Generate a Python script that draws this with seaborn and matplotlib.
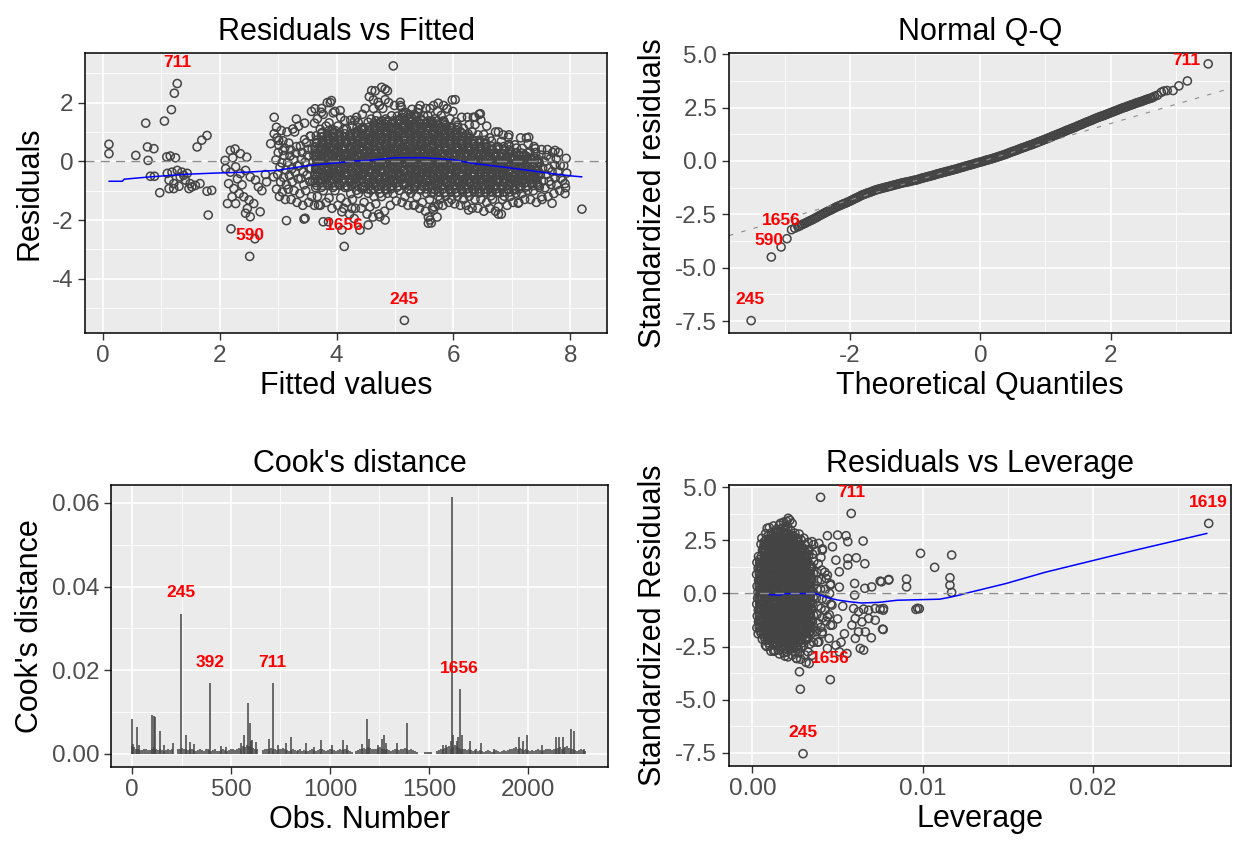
import numpy as np
import matplotlib
matplotlib.use("Agg")
import matplotlib.pyplot as plt
import seaborn as sns

# ---------------- Residuals vs Fitted : dense cloud (read column by column) -------------
rf_fit_cloud = [
 3.02,2.97,3.04,2.99,3.03,2.96,3.00,3.01,2.98,3.05,
 3.12,3.07,3.14,3.09,3.13,3.06,3.10,3.11,3.08,3.15,
 3.22,3.17,3.24,3.19,3.23,3.16,3.20,3.21,3.18,3.25,
 3.32,3.27,3.34,3.29,3.33,3.26,3.30,3.31,3.28,
 3.42,3.37,3.44,3.39,3.43,3.36,3.40,3.41,3.38,3.45,3.35,
 3.52,3.47,3.54,3.49,3.53,3.46,3.50,3.51,3.48,3.55,3.45,
 3.62,3.57,3.64,3.59,3.63,3.56,3.60,3.61,3.58,3.65,3.55,3.62,3.57,
 3.72,3.67,3.74,3.69,3.73,3.66,3.70,3.71,3.68,3.75,3.65,3.72,3.67,3.74,
 3.82,3.77,3.84,3.79,3.83,3.76,3.80,3.81,3.78,3.85,3.75,3.82,3.77,3.84,
 3.92,3.87,3.94,3.89,3.93,3.86,3.90,3.91,3.88,3.95,3.85,3.92,3.87,3.94,3.89,
 4.02,3.97,4.04,3.99,4.03,3.96,4.00,4.01,3.98,4.05,3.95,4.02,3.97,
 4.12,4.07,4.14,4.09,4.13,4.06,4.10,4.11,4.08,4.15,4.05,4.12,4.07,
 4.22,4.17,4.24,4.19,4.23,4.16,4.20,4.21,4.18,4.25,4.15,4.22,4.17,4.24,
 4.32,4.27,4.34,4.29,4.33,4.26,4.30,4.31,4.28,4.35,4.25,4.32,4.27,4.34,
 4.42,4.37,4.44,4.39,4.43,4.36,4.40,4.41,4.38,4.45,4.35,4.42,4.37,4.44,
 4.52,4.47,4.54,4.49,4.53,4.46,4.50,4.51,4.48,4.55,4.45,4.52,4.47,4.54,4.49,
 4.62,4.57,4.64,4.59,4.63,4.56,4.60,4.61,4.58,4.65,4.55,4.62,4.57,4.64,4.59,4.63,4.56,
 4.72,4.67,4.74,4.69,4.73,4.66,4.70,4.71,4.68,4.75,4.65,4.72,4.67,4.74,4.69,4.73,4.66,
 4.82,4.77,4.84,4.79,4.83,4.76,4.80,4.81,4.78,4.85,4.75,4.82,4.77,4.84,4.79,4.83,
 4.92,4.87,4.94,4.89,4.93,4.86,4.90,4.91,4.88,4.95,4.85,4.92,4.87,4.94,4.89,
 5.02,4.97,5.04,4.99,5.03,4.96,5.00,5.01,4.98,5.05,4.95,5.02,4.97,5.04,4.99,
 5.12,5.07,5.14,5.09,5.13,5.06,5.10,5.11,5.08,5.15,5.05,5.12,5.07,5.14,5.09,
 5.22,5.17,5.24,5.19,5.23,5.16,5.20,5.21,5.18,5.25,5.15,5.22,5.17,5.24,5.19,
 5.32,5.27,5.34,5.29,5.33,5.26,5.30,5.31,5.28,5.35,5.25,5.32,5.27,5.34,5.29,
 5.42,5.37,5.44,5.39,5.43,5.36,5.40,5.41,5.38,5.45,5.35,5.42,5.37,5.44,5.39,5.43,
 5.52,5.47,5.54,5.49,5.53,5.46,5.50,5.51,5.48,5.55,5.45,5.52,5.47,5.54,5.49,5.53,
 5.62,5.57,5.64,5.59,5.63,5.56,5.60,5.61,5.58,5.65,5.55,5.62,5.57,5.64,5.59,5.63,5.56,5.60,
 5.72,5.67,5.74,5.69,5.73,5.66,5.70,5.71,5.68,5.75,5.65,5.72,5.67,5.74,5.69,5.73,5.66,
 5.82,5.77,5.84,5.79,5.83,5.76,5.80,5.81,5.78,5.85,5.75,5.82,5.77,5.84,5.79,5.83,
 5.92,5.87,5.94,5.89,5.93,5.86,5.90,5.91,5.88,5.95,5.85,5.92,5.87,5.94,5.89,
 6.02,5.97,6.04,5.99,6.03,5.96,6.00,6.01,5.98,6.05,5.95,6.02,5.97,6.04,5.99,6.03,
 6.12,6.07,6.14,6.09,6.13,6.06,6.10,6.11,6.08,6.15,6.05,6.12,6.07,6.14,
 6.22,6.17,6.24,6.19,6.23,6.16,6.20,6.21,6.18,6.25,6.15,6.22,6.17,6.24,
 6.32,6.27,6.34,6.29,6.33,6.26,6.30,6.31,6.28,6.35,6.25,6.32,6.27,6.34,
 6.42,6.37,6.44,6.39,6.43,6.36,6.40,6.41,6.38,6.45,6.35,6.42,6.37,6.44,
 6.52,6.47,6.54,6.49,6.53,6.46,6.50,6.51,6.48,6.55,6.45,6.52,6.47,
 6.62,6.57,6.64,6.59,6.63,6.56,6.60,6.61,6.58,6.65,6.55,6.62,6.57,
 6.72,6.67,6.74,6.69,6.73,6.66,6.70,6.71,6.68,6.75,6.65,6.72,
 6.82,6.77,6.84,6.79,6.83,6.76,6.80,6.81,6.78,6.85,6.75,6.82,6.77,
 6.92,6.87,6.94,6.89,6.93,6.86,6.90,6.91,6.88,6.95,6.85,
 7.02,6.97,7.04,6.99,7.03,6.96,7.00,7.01,6.98,7.05,6.95,
 7.12,7.07,7.14,7.09,7.13,7.06,7.10,7.11,7.08,7.15,
 7.22,7.17,7.24,7.19,7.23,7.16,7.20,7.21,7.18,7.25,
 7.32,7.27,7.34,7.29,7.33,7.26,7.30,7.31,7.28,
 7.42,7.37,7.44,7.39,7.43,7.36,7.40,7.41,7.38,
 7.52,7.47,7.54,7.49,7.53,7.46,7.50,7.51,
 7.62,7.57,7.64,7.59,7.63,7.56,7.60,7.61,
 7.72,7.67,7.74,7.69,7.73,7.66,7.70,
 7.82,7.77,7.84,7.79,7.83,7.76,7.80,
 7.92,7.87,7.94,7.89,7.93,
]
rf_res_cloud = [
 -1.2,-0.95,-0.7,-0.45,-0.2,0.05,0.3,0.55,0.8,1.05,
 -1.3,-1.05,-0.8,-0.55,-0.3,-0.05,0.2,0.45,0.7,1.0,
 -1.3,-0.95,-0.7,-0.48,-0.26,-0.04,0.18,0.4,0.62,1.1,
 -1.4,-1.0,-0.6,-0.38,-0.16,0.06,0.28,0.5,1.0,
 -1.5,-1.1,-0.8,-0.58,-0.36,-0.14,0.08,0.3,0.52,0.74,1.2,
 -1.4,-1.0,-0.69,-0.47,-0.25,-0.03,0.19,0.41,0.63,0.85,1.3,
 -1.5,-1.2,-0.9,-0.68,-0.46,-0.24,-0.02,0.2,0.42,0.64,0.86,1.3,1.7,
 -1.5,-1.2,-0.89,-0.67,-0.45,-0.23,-0.01,0.21,0.43,0.65,0.87,1.09,1.45,1.8,
 -1.4,-1.0,-0.78,-0.56,-0.34,-0.12,0.1,0.32,0.54,0.76,0.98,1.2,1.6,2.0,
 -1.6,-1.25,-0.89,-0.67,-0.45,-0.23,-0.01,0.21,0.43,0.65,0.87,1.09,1.31,1.65,2.0,
 -1.5,-1.0,-0.78,-0.56,-0.34,-0.12,0.1,0.32,0.54,0.76,0.98,1.2,1.7,
 -1.6,-1.25,-0.89,-0.67,-0.45,-0.23,-0.01,0.21,0.43,0.65,0.87,1.09,1.5,
 -1.8,-1.4,-1.1,-0.88,-0.66,-0.44,-0.22,0.0,0.22,0.44,0.66,0.88,1.1,1.4,
 -1.6,-1.3,-0.99,-0.77,-0.55,-0.33,-0.11,0.11,0.33,0.55,0.77,0.99,1.21,1.5,
 -1.6,-1.1,-0.88,-0.66,-0.44,-0.22,0.0,0.22,0.44,0.66,0.88,1.1,1.32,1.6,
 -1.8,-1.4,-1.09,-0.87,-0.65,-0.43,-0.21,0.01,0.23,0.45,0.67,0.89,1.11,1.33,1.8,
 -1.9,-1.55,-1.2,-0.98,-0.76,-0.54,-0.32,-0.1,0.12,0.34,0.56,0.78,1.0,1.22,1.44,1.8,2.2,
 -1.8,-1.45,-1.09,-0.87,-0.65,-0.43,-0.21,0.01,0.23,0.45,0.67,0.89,1.11,1.33,1.55,1.9,2.4,
 -1.7,-1.2,-0.98,-0.76,-0.54,-0.32,-0.1,0.12,0.34,0.56,0.78,1.0,1.22,1.44,1.8,2.1,
 -1.5,-1.09,-0.87,-0.65,-0.43,-0.21,0.01,0.23,0.45,0.67,0.89,1.11,1.33,1.55,2.0,
 -1.35,-1.1,-0.88,-0.66,-0.44,-0.22,0.0,0.22,0.44,0.66,0.88,1.1,1.32,1.54,1.9,
 -1.4,-0.99,-0.77,-0.55,-0.33,-0.11,0.11,0.33,0.55,0.77,0.99,1.21,1.43,1.65,1.9,
 -1.5,-1.2,-0.98,-0.76,-0.54,-0.32,-0.1,0.12,0.34,0.56,0.78,1.0,1.22,1.44,1.66,
 -1.5,-1.09,-0.87,-0.65,-0.43,-0.21,0.01,0.23,0.45,0.67,0.89,1.11,1.33,1.55,1.77,
 -1.6,-1.2,-0.98,-0.76,-0.54,-0.32,-0.1,0.12,0.34,0.56,0.78,1.0,1.22,1.44,1.66,1.9,
 -1.7,-1.4,-1.09,-0.87,-0.65,-0.43,-0.21,0.01,0.23,0.45,0.67,0.89,1.11,1.33,1.55,1.8,
 -2.1,-1.9,-1.6,-1.3,-1.08,-0.86,-0.64,-0.42,-0.2,0.02,0.24,0.46,0.68,0.9,1.12,1.34,1.56,1.8,
 -1.9,-1.55,-1.19,-0.97,-0.75,-0.53,-0.31,-0.09,0.13,0.35,0.57,0.79,1.01,1.23,1.45,1.7,1.9,
 -1.5,-1.3,-1.08,-0.86,-0.64,-0.42,-0.2,0.02,0.24,0.46,0.68,0.9,1.12,1.34,1.56,1.9,
 -1.4,-1.19,-0.97,-0.75,-0.53,-0.31,-0.09,0.13,0.35,0.57,0.79,1.01,1.23,1.45,1.8,
 -1.45,-1.3,-1.08,-0.86,-0.64,-0.42,-0.2,0.02,0.24,0.46,0.68,0.9,1.12,1.34,1.7,2.1,
 -1.5,-1.19,-0.97,-0.75,-0.53,-0.31,-0.09,0.13,0.35,0.57,0.79,1.01,1.23,1.5,
 -1.5,-1.3,-1.08,-0.86,-0.64,-0.42,-0.2,0.02,0.24,0.46,0.68,0.9,1.12,1.5,
 -1.6,-1.19,-0.97,-0.75,-0.53,-0.31,-0.09,0.13,0.35,0.57,0.79,1.01,1.25,1.5,
 -1.6,-1.3,-1.08,-0.86,-0.64,-0.42,-0.2,0.02,0.24,0.46,0.68,0.9,1.25,1.6,
 -1.7,-1.29,-1.07,-0.85,-0.63,-0.41,-0.19,0.03,0.25,0.47,0.69,0.91,1.4,
 -1.6,-1.4,-1.18,-0.96,-0.74,-0.52,-0.3,-0.08,0.14,0.36,0.58,0.8,1.2,
 -1.7,-1.29,-1.07,-0.85,-0.63,-0.41,-0.19,0.03,0.25,0.47,0.69,1.0,
 -1.8,-1.55,-1.3,-1.08,-0.86,-0.64,-0.42,-0.2,0.02,0.24,0.46,0.68,1.0,
 -1.5,-1.19,-0.97,-0.75,-0.53,-0.31,-0.09,0.13,0.35,0.57,0.9,
 -1.4,-1.2,-0.98,-0.76,-0.54,-0.32,-0.1,0.12,0.34,0.56,0.9,
 -1.4,-1.09,-0.87,-0.65,-0.43,-0.21,0.01,0.23,0.45,0.8,
 -1.3,-1.1,-0.88,-0.66,-0.44,-0.22,0.0,0.22,0.44,0.8,
 -1.3,-0.99,-0.77,-0.55,-0.33,-0.11,0.11,0.33,0.6,
 -1.4,-1.0,-0.78,-0.56,-0.34,-0.12,0.1,0.3,0.5,
 -1.3,-0.89,-0.67,-0.45,-0.23,-0.01,0.21,0.4,
 -1.2,-0.9,-0.68,-0.46,-0.24,-0.02,0.2,0.4,
 -1.1,-0.79,-0.57,-0.35,-0.13,0.09,0.3,
 -1.0,-0.8,-0.58,-0.36,-0.14,0.08,0.3,
 -0.9,-0.65,-0.4,-0.15,0.1,
]
# solid core of the cloud, read between the columns above
rf_fit_core = [
 3.66,3.63,3.67,3.64,3.65,3.67,3.63,3.66,
 3.76,3.73,3.77,3.74,3.75,3.77,3.73,3.76,3.74,
 3.86,3.83,3.87,3.84,3.85,3.87,3.83,3.86,3.84,
 3.96,3.93,3.97,3.94,3.95,3.97,3.93,3.96,3.94,
 4.06,4.03,4.07,4.04,4.05,4.07,4.03,4.06,4.04,
 4.16,4.13,4.17,4.14,4.15,4.17,4.13,4.16,4.14,
 4.26,4.23,4.27,4.24,4.25,4.27,4.23,4.26,4.24,
 4.36,4.33,4.37,4.34,4.35,4.37,4.33,4.36,4.34,4.35,
 4.46,4.43,4.47,4.44,4.45,4.47,4.43,4.46,4.44,4.45,
 4.56,4.53,4.57,4.54,4.55,4.57,4.53,4.56,4.54,4.55,
 4.66,4.63,4.67,4.64,4.65,4.67,4.63,4.66,4.64,4.65,4.67,
 4.76,4.73,4.77,4.74,4.75,4.77,4.73,4.76,4.74,4.75,4.77,
 4.86,4.83,4.87,4.84,4.85,4.87,4.83,4.86,4.84,4.85,4.87,
 4.96,4.93,4.97,4.94,4.95,4.97,4.93,4.96,4.94,4.95,4.97,
 5.06,5.03,5.07,5.04,5.05,5.07,5.03,5.06,5.04,5.05,5.07,
 5.16,5.13,5.17,5.14,5.15,5.17,5.13,5.16,5.14,5.15,5.17,5.13,
 5.26,5.23,5.27,5.24,5.25,5.27,5.23,5.26,5.24,5.25,5.27,5.23,
 5.36,5.33,5.37,5.34,5.35,5.37,5.33,5.36,5.34,5.35,5.37,5.33,
 5.46,5.43,5.47,5.44,5.45,5.47,5.43,5.46,5.44,5.45,5.47,
 5.56,5.53,5.57,5.54,5.55,5.57,5.53,5.56,5.54,5.55,5.57,
 5.66,5.63,5.67,5.64,5.65,5.67,5.63,5.66,5.64,5.65,5.67,5.63,
 5.76,5.73,5.77,5.74,5.75,5.77,5.73,5.76,5.74,5.75,5.77,5.73,
 5.86,5.83,5.87,5.84,5.85,5.87,5.83,5.86,5.84,5.85,5.87,5.83,
 5.96,5.93,5.97,5.94,5.95,5.97,5.93,5.96,5.94,5.95,5.97,
 6.06,6.03,6.07,6.04,6.05,6.07,6.03,6.06,6.04,6.05,6.07,
 6.16,6.13,6.17,6.14,6.15,6.17,6.13,6.16,6.14,6.15,
 6.26,6.23,6.27,6.24,6.25,6.27,6.23,6.26,6.24,6.25,
 6.36,6.33,6.37,6.34,6.35,6.37,6.33,6.36,6.34,
 6.46,6.43,6.47,6.44,6.45,6.47,6.43,6.46,6.44,
 6.56,6.53,6.57,6.54,6.55,6.57,6.53,6.56,6.54,
 6.66,6.63,6.67,6.64,6.65,6.67,6.63,6.66,
 6.76,6.73,6.77,6.74,6.75,6.77,6.73,6.76,
 6.86,6.83,6.87,6.84,6.85,6.87,6.83,6.86,
 6.96,6.93,6.97,6.94,6.95,6.97,6.93,6.96,
 7.06,7.03,7.07,7.04,7.05,7.07,
 7.16,7.13,7.17,7.14,7.15,7.17,
 7.26,7.23,7.27,7.24,7.25,7.27,
 7.36,7.33,7.37,7.34,7.35,
 7.46,7.43,7.47,7.44,7.45,
]
rf_res_core = [
 -0.83,-0.61,-0.39,-0.17,0.06,0.28,0.50,0.72,
 -0.83,-0.61,-0.39,-0.17,0.06,0.28,0.50,0.72,0.94,
 -0.83,-0.61,-0.39,-0.17,0.06,0.28,0.50,0.72,0.94,
 -0.83,-0.61,-0.39,-0.17,0.06,0.28,0.50,0.72,0.94,
 -0.83,-0.61,-0.39,-0.17,0.06,0.28,0.50,0.72,0.94,
 -0.83,-0.61,-0.39,-0.17,0.06,0.28,0.50,0.72,0.94,
 -0.83,-0.61,-0.39,-0.17,0.06,0.28,0.50,0.72,0.94,
 -0.83,-0.61,-0.39,-0.17,0.06,0.28,0.50,0.72,0.94,1.16,
 -0.83,-0.61,-0.39,-0.17,0.06,0.28,0.50,0.72,0.94,1.16,
 -0.83,-0.61,-0.39,-0.17,0.06,0.28,0.50,0.72,0.94,1.16,
 -0.83,-0.61,-0.39,-0.17,0.06,0.28,0.50,0.72,0.94,1.16,1.38,
 -0.83,-0.61,-0.39,-0.17,0.06,0.28,0.50,0.72,0.94,1.16,1.38,
 -0.83,-0.61,-0.39,-0.17,0.06,0.28,0.50,0.72,0.94,1.16,1.38,
 -0.83,-0.61,-0.39,-0.17,0.06,0.28,0.50,0.72,0.94,1.16,1.38,
 -0.83,-0.61,-0.39,-0.17,0.06,0.28,0.50,0.72,0.94,1.16,1.38,
 -0.83,-0.61,-0.39,-0.17,0.06,0.28,0.50,0.72,0.94,1.16,1.38,1.60,
 -0.83,-0.61,-0.39,-0.17,0.06,0.28,0.50,0.72,0.94,1.16,1.38,1.60,
 -0.83,-0.61,-0.39,-0.17,0.06,0.28,0.50,0.72,0.94,1.16,1.38,1.60,
 -0.83,-0.61,-0.39,-0.17,0.06,0.28,0.50,0.72,0.94,1.16,1.38,
 -0.83,-0.61,-0.39,-0.17,0.06,0.28,0.50,0.72,0.94,1.16,1.38,
 -1.05,-0.83,-0.61,-0.39,-0.17,0.06,0.28,0.50,0.72,0.94,1.16,1.38,
 -1.05,-0.83,-0.61,-0.39,-0.17,0.06,0.28,0.50,0.72,0.94,1.16,1.38,
 -1.05,-0.83,-0.61,-0.39,-0.17,0.06,0.28,0.50,0.72,0.94,1.16,1.38,
 -1.05,-0.83,-0.61,-0.39,-0.17,0.06,0.28,0.50,0.72,0.94,1.16,
 -1.05,-0.83,-0.61,-0.39,-0.17,0.06,0.28,0.50,0.72,0.94,1.16,
 -1.05,-0.83,-0.61,-0.39,-0.17,0.06,0.28,0.50,0.72,0.94,
 -1.05,-0.83,-0.61,-0.39,-0.17,0.06,0.28,0.50,0.72,0.94,
 -1.05,-0.83,-0.61,-0.39,-0.17,0.06,0.28,0.50,0.72,
 -1.05,-0.83,-0.61,-0.39,-0.17,0.06,0.28,0.50,0.72,
 -1.05,-0.83,-0.61,-0.39,-0.17,0.06,0.28,0.50,0.72,
 -1.05,-0.83,-0.61,-0.39,-0.17,0.06,0.28,0.50,
 -1.05,-0.83,-0.61,-0.39,-0.17,0.06,0.28,0.50,
 -1.05,-0.83,-0.61,-0.39,-0.17,0.06,0.28,0.50,
 -1.05,-0.83,-0.61,-0.39,-0.17,0.06,0.28,0.50,
 -0.83,-0.61,-0.39,-0.17,0.06,0.28,
 -0.83,-0.61,-0.39,-0.17,0.06,0.28,
 -0.83,-0.61,-0.39,-0.17,0.06,0.28,
 -0.83,-0.61,-0.39,-0.17,0.06,
 -0.83,-0.61,-0.39,-0.17,0.06,
]
# innermost core (darkest part of the cloud)
rf_fit_inner = [
 3.63,3.66,3.64,3.67,3.65,3.63,3.66,
 3.73,3.76,3.74,3.77,3.75,3.73,3.76,3.74,
 3.83,3.86,3.84,3.87,3.85,3.83,3.86,3.84,3.87,
 3.93,3.96,3.94,3.97,3.95,3.93,3.96,3.94,3.97,
 4.03,4.06,4.04,4.07,4.05,4.03,4.06,4.04,
 4.13,4.16,4.14,4.17,4.15,4.13,4.16,4.14,
 4.23,4.26,4.24,4.27,4.25,4.23,4.26,4.24,
 4.33,4.36,4.34,4.37,4.35,4.33,4.36,4.34,4.37,
 4.43,4.46,4.44,4.47,4.45,4.43,4.46,4.44,4.47,4.45,
 4.53,4.56,4.54,4.57,4.55,4.53,4.56,4.54,4.57,4.55,
 4.63,4.66,4.64,4.67,4.65,4.63,4.66,4.64,4.67,4.65,4.63,
 4.73,4.76,4.74,4.77,4.75,4.73,4.76,4.74,4.77,4.75,4.73,
 4.83,4.86,4.84,4.87,4.85,4.83,4.86,4.84,4.87,4.85,4.83,
 4.93,4.96,4.94,4.97,4.95,4.93,4.96,4.94,4.97,4.95,4.93,
 5.03,5.06,5.04,5.07,5.05,5.03,5.06,5.04,5.07,5.05,
 5.13,5.16,5.14,5.17,5.15,5.13,5.16,5.14,5.17,5.15,5.13,
 5.23,5.26,5.24,5.27,5.25,5.23,5.26,5.24,5.27,5.25,5.23,5.26,
 5.33,5.36,5.34,5.37,5.35,5.33,5.36,5.34,5.37,5.35,5.33,5.36,
 5.43,5.46,5.44,5.47,5.45,5.43,5.46,5.44,5.47,5.45,5.43,
 5.53,5.56,5.54,5.57,5.55,5.53,5.56,5.54,5.57,5.55,5.53,
 5.63,5.66,5.64,5.67,5.65,5.63,5.66,5.64,5.67,5.65,5.63,
 5.73,5.76,5.74,5.77,5.75,5.73,5.76,5.74,5.77,5.75,5.73,
 5.83,5.86,5.84,5.87,5.85,5.83,5.86,5.84,5.87,5.85,5.83,
 5.93,5.96,5.94,5.97,5.95,5.93,5.96,5.94,5.97,5.95,
 6.03,6.06,6.04,6.07,6.05,6.03,6.06,6.04,6.07,6.05,
 6.13,6.16,6.14,6.17,6.15,6.13,6.16,6.14,6.17,
 6.23,6.26,6.24,6.27,6.25,6.23,6.26,6.24,6.27,
 6.33,6.36,6.34,6.37,6.35,6.33,6.36,6.34,
 6.43,6.46,6.44,6.47,6.45,6.43,6.46,6.44,
 6.53,6.56,6.54,6.57,6.55,6.53,6.56,6.54,
 6.63,6.66,6.64,6.67,6.65,6.63,6.66,
 6.73,6.76,6.74,6.77,6.75,6.73,6.76,
 6.83,6.86,6.84,6.87,6.85,6.83,6.86,
 6.93,6.96,6.94,6.97,6.95,6.93,6.96,
 7.03,7.06,7.04,7.07,7.05,7.03,
 7.13,7.16,7.14,7.17,7.15,7.13,
 7.23,7.26,7.24,7.27,7.25,
 7.33,7.36,7.34,7.37,
 7.43,7.46,7.44,7.47,
]
rf_res_inner = [
 -0.72,-0.50,-0.28,-0.06,0.17,0.39,0.61,
 -0.72,-0.50,-0.28,-0.06,0.17,0.39,0.61,0.83,
 -0.72,-0.50,-0.28,-0.06,0.17,0.39,0.61,0.83,1.05,
 -0.72,-0.50,-0.28,-0.06,0.17,0.39,0.61,0.83,1.05,
 -0.72,-0.50,-0.28,-0.06,0.17,0.39,0.61,0.83,
 -0.72,-0.50,-0.28,-0.06,0.17,0.39,0.61,0.83,
 -0.72,-0.50,-0.28,-0.06,0.17,0.39,0.61,0.83,
 -0.72,-0.50,-0.28,-0.06,0.17,0.39,0.61,0.83,1.05,
 -0.94,-0.72,-0.50,-0.28,-0.06,0.17,0.39,0.61,0.83,1.05,
 -0.94,-0.72,-0.50,-0.28,-0.06,0.17,0.39,0.61,0.83,1.05,
 -0.94,-0.72,-0.50,-0.28,-0.06,0.17,0.39,0.61,0.83,1.05,1.27,
 -0.94,-0.72,-0.50,-0.28,-0.06,0.17,0.39,0.61,0.83,1.05,1.27,
 -0.94,-0.72,-0.50,-0.28,-0.06,0.17,0.39,0.61,0.83,1.05,1.27,
 -0.94,-0.72,-0.50,-0.28,-0.06,0.17,0.39,0.61,0.83,1.05,1.27,
 -0.72,-0.50,-0.28,-0.06,0.17,0.39,0.61,0.83,1.05,1.27,
 -0.72,-0.50,-0.28,-0.06,0.17,0.39,0.61,0.83,1.05,1.27,1.49,
 -0.94,-0.72,-0.50,-0.28,-0.06,0.17,0.39,0.61,0.83,1.05,1.27,1.49,
 -0.94,-0.72,-0.50,-0.28,-0.06,0.17,0.39,0.61,0.83,1.05,1.27,1.49,
 -0.94,-0.72,-0.50,-0.28,-0.06,0.17,0.39,0.61,0.83,1.05,1.27,
 -0.94,-0.72,-0.50,-0.28,-0.06,0.17,0.39,0.61,0.83,1.05,1.27,
 -0.94,-0.72,-0.50,-0.28,-0.06,0.17,0.39,0.61,0.83,1.05,1.27,
 -0.94,-0.72,-0.50,-0.28,-0.06,0.17,0.39,0.61,0.83,1.05,1.27,
 -0.94,-0.72,-0.50,-0.28,-0.06,0.17,0.39,0.61,0.83,1.05,1.27,
 -0.94,-0.72,-0.50,-0.28,-0.06,0.17,0.39,0.61,0.83,1.05,
 -0.94,-0.72,-0.50,-0.28,-0.06,0.17,0.39,0.61,0.83,1.05,
 -0.94,-0.72,-0.50,-0.28,-0.06,0.17,0.39,0.61,0.83,
 -0.94,-0.72,-0.50,-0.28,-0.06,0.17,0.39,0.61,0.83,
 -0.94,-0.72,-0.50,-0.28,-0.06,0.17,0.39,0.61,
 -0.94,-0.72,-0.50,-0.28,-0.06,0.17,0.39,0.61,
 -0.94,-0.72,-0.50,-0.28,-0.06,0.17,0.39,0.61,
 -0.94,-0.72,-0.50,-0.28,-0.06,0.17,0.39,
 -0.94,-0.72,-0.50,-0.28,-0.06,0.17,0.39,
 -0.94,-0.72,-0.50,-0.28,-0.06,0.17,0.39,
 -0.94,-0.72,-0.50,-0.28,-0.06,0.17,0.39,
 -0.94,-0.72,-0.50,-0.28,-0.06,0.17,
 -0.94,-0.72,-0.50,-0.28,-0.06,0.17,
 -0.72,-0.50,-0.28,-0.06,0.17,
 -0.72,-0.50,-0.28,-0.06,
 -0.72,-0.50,-0.28,-0.06,
]
# sparse points / outliers of Residuals vs Fitted
rf_fit_sparse = [
 0.10,0.10,0.56,0.73,0.76,0.87,0.77,0.81,0.88,0.97,
 1.05,1.17,1.22,1.27,1.09,1.15,1.24,1.10,1.18,1.27,
 1.35,1.44,1.13,1.21,1.32,1.41,1.49,1.13,1.21,1.47,
 1.52,1.30,1.38,1.61,1.69,1.78,1.66,1.78,1.86,1.80,
 1.58,2.09,2.18,2.26,2.35,2.46,2.22,2.10,2.18,2.27,
 2.35,2.44,2.52,2.61,2.66,2.15,2.24,2.33,2.41,2.50,
 2.58,2.69,2.27,2.13,2.21,2.44,2.52,2.47,2.30,2.38,
 2.72,2.80,2.78,2.19,2.60,2.51,2.92,2.93,3.31,3.14,
 3.44,3.77,4.13,5.16,8.20,4.97,4.83,4.77,4.60,2.87,
 2.93,2.97,3.01,3.08,3.63,3.74,3.91,4.06,4.14,4.31,
 4.63,4.71,4.87,5.09,5.11,5.40,5.74,5.89,5.98,6.37,
 6.46,6.94,7.29,7.40,7.74,3.46,3.69,4.09,4.26,4.54,
 4.74,4.83,5.34,5.57,5.60,5.66,5.74,6.26,6.77,7.11,
 7.51,7.69,7.91,7.91,3.86,4.09,4.40,4.30,
]
rf_res_sparse = [
 0.58,0.26,0.20,1.30,0.49,0.43,0.03,-0.51,-0.51,-1.07,
 1.37,1.76,2.32,2.65,0.15,0.18,0.12,-0.41,-0.37,-0.31,
 -0.37,-0.41,-0.64,-0.76,-0.53,-0.64,-0.76,-0.93,-0.93,-0.93,
 -0.87,-0.85,-0.48,0.49,0.72,0.88,-0.76,-1.02,-0.99,-1.83,
 -0.82,0.03,0.37,0.42,0.26,0.14,0.12,-0.25,-0.37,-0.19,
 -0.42,-0.31,-0.53,-0.64,-0.87,-0.76,-0.93,-1.10,-1.21,-1.32,
 -1.44,-1.72,-1.44,-1.44,-1.21,-1.77,-1.89,-1.61,-0.60,-0.80,
 -1.00,-0.70,-0.45,-2.30,-2.64,-3.24,-0.53,1.50,1.44,-2.02,
 -1.97,-2.06,-2.90,-5.42,-1.63,3.25,2.46,2.52,2.41,0.60,
 0.94,1.16,0.71,0.37,1.79,1.67,2.07,1.73,1.39,1.39,
 2.09,2.01,2.40,2.01,1.84,1.79,1.98,1.79,2.09,1.50,
 1.62,0.82,0.82,0.43,0.37,-1.94,-1.49,-1.72,-1.60,-2.17,
 -1.89,-2.00,-1.49,-2.11,-2.00,-1.66,-1.49,-1.66,-1.80,-1.43,
 -1.21,-1.43,-1.10,-0.76,-2.06,-2.34,-2.34,-1.95,
]
rf_smooth_fit = [0.10, 0.33, 0.36, 0.81, 1.43, 1.94, 2.46, 2.97, 3.43, 3.74, 3.97,
                 4.31, 4.54, 5.00, 5.51, 5.97, 6.37, 6.83, 7.29, 7.69, 8.03, 8.20]
rf_smooth_res = [-0.68, -0.68, -0.61, -0.53, -0.44, -0.40, -0.37, -0.31, -0.17, -0.10, -0.06,
                 0.01, 0.03, 0.12, 0.12, 0.06, -0.08, -0.19, -0.31, -0.42, -0.50, -0.53]
rf_lab_text = ["711", "590", "1656", "245"]
rf_lab_fit = [1.27, 2.51, 4.13, 5.16]
rf_lab_res = [2.65, -3.24, -2.90, -5.42]

# ---------------- Normal Q-Q ----------------
qq_theo_band = [
 -2.800,-2.775,-2.750,-2.725,-2.700,-2.675,-2.650,-2.625,-2.600,-2.575,
 -2.550,-2.525,-2.500,-2.475,-2.450,-2.425,-2.400,-2.375,-2.350,-2.325,
 -2.300,-2.275,-2.250,-2.225,-2.200,-2.175,-2.150,-2.125,-2.100,-2.075,
 -2.050,-2.025,-2.000,-1.975,-1.950,-1.925,-1.900,-1.875,-1.850,-1.825,
 -1.800,-1.775,-1.750,-1.725,-1.700,-1.675,-1.650,-1.625,-1.600,-1.575,
 -1.550,-1.525,-1.500,-1.475,-1.450,-1.425,-1.400,-1.375,-1.350,-1.325,
 -1.300,-1.275,-1.250,-1.225,-1.200,-1.175,-1.150,-1.125,-1.100,-1.075,
 -1.050,-1.025,-1.000,-0.975,-0.950,-0.925,-0.900,-0.875,-0.850,-0.825,
 -0.800,-0.775,-0.750,-0.725,-0.700,-0.675,-0.650,-0.625,-0.600,-0.575,
 -0.550,-0.525,-0.500,-0.475,-0.450,-0.425,-0.400,-0.375,-0.350,-0.325,
 -0.300,-0.275,-0.250,-0.225,-0.200,-0.175,-0.150,-0.125,-0.100,-0.075,
 -0.050,-0.025,0.000,0.025,0.050,0.075,0.100,0.125,0.150,0.175,
 0.200,0.225,0.250,0.275,0.300,0.325,0.350,0.375,0.400,0.425,
 0.450,0.475,0.500,0.525,0.550,0.575,0.600,0.625,0.650,0.675,
 0.700,0.725,0.750,0.775,0.800,0.825,0.850,0.875,0.900,0.925,
 0.950,0.975,1.000,1.025,1.050,1.075,1.100,1.125,1.150,1.175,
 1.200,1.225,1.250,1.275,1.300,1.325,1.350,1.375,1.400,1.425,
 1.450,1.475,1.500,1.525,1.550,1.575,1.600,1.625,1.650,1.675,
 1.700,1.725,1.750,1.775,1.800,1.825,1.850,1.875,1.900,1.925,
 1.950,1.975,2.000,2.025,2.050,2.075,2.100,2.125,2.150,2.175,
 2.200,2.225,2.250,2.275,2.300,2.325,2.350,2.375,2.400,2.425,
 2.450,2.475,2.500,2.525,2.550,2.575,2.600,2.625,2.650,2.675,
]
qq_res_band = [
 -3.08,-3.04,-3.00,-2.96,-2.93,-2.89,-2.85,-2.81,-2.78,-2.74,
 -2.70,-2.66,-2.62,-2.57,-2.53,-2.49,-2.45,-2.41,-2.37,-2.33,
 -2.30,-2.26,-2.22,-2.18,-2.14,-2.11,-2.08,-2.04,-2.01,-1.98,
 -1.95,-1.91,-1.88,-1.84,-1.80,-1.76,-1.73,-1.69,-1.65,-1.61,
 -1.58,-1.55,-1.52,-1.49,-1.47,-1.44,-1.41,-1.38,-1.35,-1.33,
 -1.31,-1.29,-1.27,-1.25,-1.23,-1.21,-1.19,-1.17,-1.15,-1.13,
 -1.11,-1.09,-1.07,-1.05,-1.03,-1.01,-1.00,-0.98,-0.97,-0.95,
 -0.93,-0.91,-0.90,-0.88,-0.86,-0.83,-0.81,-0.79,-0.77,-0.75,
 -0.73,-0.71,-0.69,-0.67,-0.65,-0.62,-0.60,-0.58,-0.56,-0.54,
 -0.52,-0.50,-0.48,-0.46,-0.44,-0.42,-0.40,-0.38,-0.36,-0.33,
 -0.31,-0.29,-0.27,-0.24,-0.22,-0.20,-0.18,-0.16,-0.14,-0.11,
 -0.09,-0.07,-0.05,-0.03,-0.01,0.02,0.04,0.06,0.08,0.10,
 0.13,0.15,0.18,0.20,0.23,0.25,0.28,0.30,0.33,0.36,
 0.39,0.42,0.45,0.47,0.50,0.53,0.56,0.59,0.62,0.64,
 0.67,0.70,0.73,0.75,0.78,0.81,0.84,0.87,0.90,0.93,
 0.96,0.99,1.02,1.05,1.08,1.11,1.15,1.18,1.21,1.24,
 1.27,1.30,1.33,1.36,1.40,1.43,1.46,1.49,1.52,1.55,
 1.58,1.61,1.65,1.68,1.71,1.74,1.78,1.81,1.84,1.87,
 1.90,1.93,1.97,2.00,2.03,2.06,2.09,2.11,2.14,2.17,
 2.20,2.23,2.26,2.29,2.32,2.35,2.38,2.41,2.44,2.47,
 2.50,2.52,2.55,2.58,2.61,2.63,2.66,2.69,2.72,2.74,
 2.77,2.79,2.82,2.85,2.88,2.90,2.93,2.95,2.98,3.03,
]
qq_theo_tail = [-3.52, -3.21, -3.06, -2.97, -2.90, -2.85,
                2.72, 2.78, 2.82, 2.87, 2.96, 3.05, 3.18, 3.50]
qq_res_tail = [-7.48, -4.50, -4.03, -3.64, -3.22, -3.15,
               3.08, 3.22, 3.28, 3.30, 3.30, 3.52, 3.75, 4.55]
qq_line_intercept = -0.036
qq_line_slope = 0.896
qq_lab_text = ["245", "590", "1656", "711"]
qq_lab_theo = [-3.54, -3.24, -3.06, 3.17]
qq_lab_res = [-6.50, -3.72, -2.80, 4.73]

# ---------------- Cook's distance ----------------
# background values, one per 10 observations starting at obs 1
cook_base = [
 0.0018,0.0016,0.0012,0.0010,0.0008,0.0008,0.0010,0.0012,0.0008,0.0009,0.0012,0.0015,0.0010,0.0008,0.0010,0.0008,0.0006,0.0008,0.0010,0.0008,0.0010,
 0,0,
 0.0012,0.0010,0.0014,0.0012,0.0010,0.0008,0.0010,0.0012,0.0008,0.0006,
 0.0008,0.0010,0.0008,0.0006,0.0010,0.0012,0.0008,0.0006,0.0008,0.0010,
 0.0007,0.0006,0.0008,0.0010,0.0008,0.0006,0.0008,0.0010,0.0012,0.0008,
 0.0010,0.0014,0.0012,0.0018,0.0016,0.0020,0.0018,0.0016,0.0014,0.0012,
 0.0010,
 0,0,
 0.0008,0.0010,0.0012,0.0010,0.0014,0.0012,0.0010,0.0008,0.0010,0.0012,
 0.0014,0.0010,0.0008,0.0006,0.0008,0.0010,0.0008,0.0006,0.0008,0.0010,
 0.0006,0.0008,0.0007,0.0006,0.0008,0.0010,0.0008,0.0006,0.0008,0.0012,
 0.0010,0.0008,0.0006,0.0008,0.0010,0.0012,0.0008,0.0006,0.0008,0.0010,
 0.0008,0.0012,0.0010,0.0008,0.0006,0.0005,
 0,
 0.0006,0.0008,0.0010,0.0012,0.0014,0.0012,0.0016,0.0014,0.0012,0.0010,
 0.0012,0.0014,0.0016,0.0012,0.0010,0.0008,0.0010,0.0008,0.0006,0.0008,
 0.0010,0.0012,0.0008,0.0010,0.0012,0.0014,0.0010,0.0008,0.0010,0.0008,
 0.0006,0.0005,
 0,0,0,
 0.0004,0.0003,0.0004,0.0003,
 0,0,
 0.0006,0.0008,0.0010,0.0012,0.0014,0.0016,0.0018,0.0012,0.0016,0.0020,
 0.0018,0.0014,0.0012,0.0010,0.0012,0.0008,0.0010,0.0008,0.0006,0.0008,
 0.0010,0.0006,0.0008,0.0006,0.0005,0.0006,0.0008,0.0006,0.0005,0.0006,
 0.0008,0.0006,0.0005,0.0006,0.0008,0.0006,0.0008,0.0010,0.0012,0.0014,
 0.0016,0.0012,0.0014,0.0010,0.0008,0.0010,0.0008,0.0006,0.0008,0.0006,
 0.0008,0.0010,0.0008,0.0006,0.0008,0.0010,0.0012,0.0010,0.0008,0.0010,
 0.0012,0.0014,0.0016,0.0012,0.0014,0.0016,0.0018,0.0014,0.0012,0.0010,
 0.0008,0.0006,0.0008,0.0010,0.0008,0.0006,
]
cook_peak_obs = [1, 5, 24, 37, 101, 108, 113, 143, 163, 205, 245, 273, 290, 315, 392, 450, 475,
                 551, 568, 587, 597, 602, 607, 627, 691, 711, 737, 776, 804, 878, 919, 956,
                 1012, 1067, 1087, 1163, 1188, 1200, 1242, 1264, 1275, 1284, 1339, 1390, 1571,
                 1585, 1610, 1619, 1624, 1640, 1650, 1656, 1667, 1706, 1763, 1828, 1954, 1975,
                 1994, 2074, 2141, 2156, 2176, 2219, 2235, 2283]
cook_peak_d = [0.0082, 0.0022, 0.0064, 0.0020, 0.0092, 0.0090, 0.0088, 0.0054, 0.0020, 0.0026,
               0.0335, 0.0044, 0.0028, 0.0024, 0.0168, 0.0018, 0.0016, 0.0026, 0.0044, 0.0122,
               0.0074, 0.0030, 0.0032, 0.0028, 0.0036, 0.0168, 0.0020, 0.0026, 0.0040, 0.0026,
               0.0016, 0.0032, 0.0020, 0.0032, 0.0020, 0.0022, 0.0082, 0.0036, 0.0020, 0.0036,
               0.0044, 0.0026, 0.0026, 0.0074, 0.0020, 0.0020, 0.0030, 0.0615, 0.0044, 0.0030,
               0.0040, 0.0154, 0.0044, 0.0030, 0.0026, 0.0012, 0.0040, 0.0030, 0.0044, 0.0020,
               0.0040, 0.0040, 0.0040, 0.0058, 0.0055, 0.0012]
cook_lab_text = ["245", "392", "711", "1656"]
cook_lab_obs = [245, 392, 711, 1656]
cook_lab_d = [0.0335, 0.0168, 0.0168, 0.0154]

# ---------------- Residuals vs Leverage ----------------
rl_lev_cloud = [
 0.00033,0.00026,0.00035,0.00028,0.00034,0.00025,0.00030,0.00032,0.00027,0.00036,0.00024,0.00033,0.00026,0.00035,
 0.00058,0.00051,0.00060,0.00053,0.00059,0.00050,0.00055,0.00057,0.00052,0.00061,0.00049,0.00058,0.00051,0.00060,0.00053,0.00059,0.00050,0.00055,
 0.00083,0.00076,0.00085,0.00078,0.00084,0.00075,0.00080,0.00082,0.00077,0.00086,0.00074,0.00083,0.00076,0.00085,0.00078,0.00084,0.00075,0.00080,0.00082,0.00077,0.00086,
 0.00108,0.00101,0.00110,0.00103,0.00109,0.00100,0.00105,0.00107,0.00102,0.00111,0.00099,0.00108,0.00101,0.00110,0.00103,0.00109,0.00100,0.00105,0.00107,0.00102,0.00111,0.00099,
 0.00133,0.00126,0.00135,0.00128,0.00134,0.00125,0.00130,0.00132,0.00127,0.00136,0.00124,0.00133,0.00126,0.00135,0.00128,0.00134,0.00125,0.00130,0.00132,0.00127,0.00136,0.00124,
 0.00158,0.00151,0.00160,0.00153,0.00159,0.00150,0.00155,0.00157,0.00152,0.00161,0.00149,0.00158,0.00151,0.00160,0.00153,0.00159,0.00150,0.00155,0.00157,0.00152,0.00161,0.00149,0.00158,
 0.00183,0.00176,0.00185,0.00178,0.00184,0.00175,0.00180,0.00182,0.00177,0.00186,0.00174,0.00183,0.00176,0.00185,0.00178,0.00184,0.00175,0.00180,0.00182,0.00177,0.00186,0.00174,0.00183,
 0.00208,0.00201,0.00210,0.00203,0.00209,0.00200,0.00205,0.00207,0.00202,0.00211,0.00199,0.00208,0.00201,0.00210,0.00203,0.00209,0.00200,0.00205,0.00207,0.00202,0.00211,0.00199,0.00208,0.00201,0.00210,
 0.00233,0.00226,0.00235,0.00228,0.00234,0.00225,0.00230,0.00232,0.00227,0.00236,0.00224,0.00233,0.00226,0.00235,0.00228,0.00234,0.00225,0.00230,0.00232,0.00227,0.00236,0.00224,0.00233,
 0.00258,0.00251,0.00260,0.00253,0.00259,0.00250,0.00255,0.00257,0.00252,0.00261,0.00249,0.00258,0.00251,0.00260,0.00253,0.00259,0.00250,0.00255,0.00257,0.00252,0.00261,0.00249,
 0.00283,0.00276,0.00285,0.00278,0.00284,0.00275,0.00280,0.00282,0.00277,0.00286,0.00274,0.00283,0.00276,0.00285,0.00278,0.00284,0.00275,0.00280,0.00282,0.00277,0.00286,0.00274,
 0.00308,0.00301,0.00310,0.00303,0.00309,0.00300,0.00305,0.00307,0.00302,0.00311,0.00299,0.00308,0.00301,0.00310,0.00303,0.00309,0.00300,0.00305,0.00307,0.00302,
 0.00333,0.00326,0.00335,0.00328,0.00334,0.00325,0.00330,0.00332,0.00327,0.00336,0.00324,0.00333,0.00326,0.00335,0.00328,0.00334,0.00325,0.00330,0.00332,0.00327,
 0.00358,0.00351,0.00360,0.00353,0.00359,0.00350,0.00355,0.00357,0.00352,0.00361,0.00349,0.00358,0.00351,0.00360,0.00353,0.00359,
 0.00383,0.00376,0.00385,0.00378,0.00384,0.00375,0.00380,0.00382,0.00377,0.00386,0.00374,
 0.00408,0.00401,0.00410,0.00403,0.00409,0.00400,0.00405,0.00407,0.00402,0.00411,
 0.00433,0.00426,0.00435,0.00428,0.00434,0.00425,
 0.00458,0.00451,0.00460,0.00453,0.00459,
]
rl_sr_cloud = [
 -1.9,-1.62,-1.34,-1.06,-0.78,-0.5,-0.22,0.06,0.34,0.62,0.9,1.18,1.46,1.74,
 -2.16,-1.88,-1.6,-1.32,-1.04,-0.76,-0.48,-0.2,0.08,0.36,0.64,0.92,1.2,1.48,1.76,2.04,2.32,2.6,
 -2.5,-2.22,-1.94,-1.66,-1.38,-1.1,-0.82,-0.54,-0.26,0.02,0.3,0.58,0.86,1.14,1.42,1.7,1.98,2.26,2.54,2.82,3.07,
 -2.72,-2.46,-2.18,-1.9,-1.62,-1.34,-1.06,-0.78,-0.5,-0.22,0.06,0.34,0.62,0.9,1.18,1.46,1.74,2.02,2.3,2.58,2.86,3.1,
 -2.7,-2.42,-2.14,-1.86,-1.58,-1.3,-1.02,-0.74,-0.46,-0.18,0.1,0.38,0.66,0.94,1.22,1.5,1.78,2.06,2.34,2.62,2.9,3.18,
 -2.85,-2.66,-2.38,-2.1,-1.82,-1.54,-1.26,-0.98,-0.7,-0.42,-0.14,0.14,0.42,0.7,0.98,1.26,1.54,1.82,2.1,2.38,2.66,2.94,3.22,
 -2.8,-2.52,-2.24,-1.96,-1.68,-1.4,-1.12,-0.84,-0.56,-0.28,0.0,0.28,0.56,0.84,1.12,1.4,1.68,1.96,2.24,2.52,2.8,3.08,3.36,
 -2.99,-2.76,-2.48,-2.2,-1.92,-1.64,-1.36,-1.08,-0.8,-0.52,-0.24,0.04,0.32,0.6,0.88,1.16,1.44,1.72,2.0,2.28,2.56,2.84,3.12,3.4,3.54,
 -2.9,-2.62,-2.34,-2.06,-1.78,-1.5,-1.22,-0.94,-0.66,-0.38,-0.1,0.18,0.46,0.74,1.02,1.3,1.58,1.86,2.14,2.42,2.7,2.98,3.3,
 -3.05,-2.76,-2.48,-2.2,-1.92,-1.64,-1.36,-1.08,-0.8,-0.52,-0.24,0.04,0.32,0.6,0.88,1.16,1.44,1.72,2.0,2.28,2.56,2.84,
 -3.1,-2.8,-2.52,-2.24,-1.96,-1.68,-1.4,-1.12,-0.84,-0.56,-0.28,0.0,0.28,0.56,0.84,1.12,1.4,1.68,1.96,2.24,2.52,2.8,
 -2.9,-2.46,-2.18,-1.9,-1.62,-1.34,-1.06,-0.78,-0.5,-0.22,0.06,0.34,0.62,0.9,1.18,1.46,1.74,2.02,2.3,2.6,
 -3.3,-2.75,-2.4,-2.12,-1.84,-1.56,-1.28,-1.0,-0.72,-0.44,-0.16,0.12,0.4,0.68,0.96,1.24,1.52,1.8,2.08,2.4,
 -2.3,-1.86,-1.58,-1.3,-1.02,-0.74,-0.46,-0.18,0.1,0.38,0.66,0.94,1.22,1.5,1.85,2.3,
 -2.3,-1.8,-1.4,-1.0,-0.6,-0.2,0.2,0.6,1.0,1.4,2.0,
 -1.9,-1.6,-1.15,-0.7,-0.25,0.2,0.65,1.1,1.7,2.1,
 -1.3,-0.8,-0.3,0.2,0.7,1.0,
 -1.5,-1.0,-0.5,0.0,0.45,
]
# solid core of the leverage cloud, read between the columns above
rl_lev_core = [
 0.00044,0.00040,0.00045,0.00039,0.00043,0.00041,0.00042,0.00044,0.00040,0.00045,0.00039,0.00043,0.00041,
 0.00069,0.00065,0.00070,0.00064,0.00068,0.00066,0.00067,0.00069,0.00065,0.00070,0.00064,0.00068,0.00066,0.00067,0.00069,0.00065,0.00070,
 0.00094,0.00090,0.00095,0.00089,0.00093,0.00091,0.00092,0.00094,0.00090,0.00095,0.00089,0.00093,0.00091,0.00092,0.00094,0.00090,0.00095,0.00089,0.00093,
 0.00119,0.00115,0.00120,0.00114,0.00118,0.00116,0.00117,0.00119,0.00115,0.00120,0.00114,0.00118,0.00116,0.00117,0.00119,0.00115,0.00120,0.00114,0.00118,
 0.00144,0.00140,0.00145,0.00139,0.00143,0.00141,0.00142,0.00144,0.00140,0.00145,0.00139,0.00143,0.00141,0.00142,0.00144,0.00140,0.00145,0.00139,0.00143,0.00141,
 0.00169,0.00165,0.00170,0.00164,0.00168,0.00166,0.00167,0.00169,0.00165,0.00170,0.00164,0.00168,0.00166,0.00167,0.00169,0.00165,0.00170,0.00164,0.00168,0.00166,
 0.00194,0.00190,0.00195,0.00189,0.00193,0.00191,0.00192,0.00194,0.00190,0.00195,0.00189,0.00193,0.00191,0.00192,0.00194,0.00190,0.00195,0.00189,0.00193,0.00191,0.00192,
 0.00219,0.00215,0.00220,0.00214,0.00218,0.00216,0.00217,0.00219,0.00215,0.00220,0.00214,0.00218,0.00216,0.00217,0.00219,0.00215,0.00220,0.00214,0.00218,0.00216,
 0.00244,0.00240,0.00245,0.00239,0.00243,0.00241,0.00242,0.00244,0.00240,0.00245,0.00239,0.00243,0.00241,0.00242,0.00244,0.00240,0.00245,0.00239,0.00243,0.00241,
 0.00269,0.00265,0.00270,0.00264,0.00268,0.00266,0.00267,0.00269,0.00265,0.00270,0.00264,0.00268,0.00266,0.00267,0.00269,0.00265,0.00270,0.00264,0.00268,
 0.00294,0.00290,0.00295,0.00289,0.00293,0.00291,0.00292,0.00294,0.00290,0.00295,0.00289,0.00293,0.00291,0.00292,0.00294,0.00290,0.00295,
 0.00319,0.00315,0.00320,0.00314,0.00318,0.00316,0.00317,0.00319,0.00315,0.00320,0.00314,0.00318,0.00316,0.00317,0.00319,
 0.00344,0.00340,0.00345,0.00339,0.00343,0.00341,0.00342,0.00344,0.00340,0.00345,0.00339,0.00343,
]
rl_sr_core = [
 -1.76,-1.48,-1.20,-0.92,-0.64,-0.36,-0.08,0.20,0.48,0.76,1.04,1.32,1.60,
 -2.04,-1.76,-1.48,-1.20,-0.92,-0.64,-0.36,-0.08,0.20,0.48,0.76,1.04,1.32,1.60,1.88,2.16,2.44,
 -2.32,-2.04,-1.76,-1.48,-1.20,-0.92,-0.64,-0.36,-0.08,0.20,0.48,0.76,1.04,1.32,1.60,1.88,2.16,2.44,2.72,
 -2.32,-2.04,-1.76,-1.48,-1.20,-0.92,-0.64,-0.36,-0.08,0.20,0.48,0.76,1.04,1.32,1.60,1.88,2.16,2.44,2.72,
 -2.32,-2.04,-1.76,-1.48,-1.20,-0.92,-0.64,-0.36,-0.08,0.20,0.48,0.76,1.04,1.32,1.60,1.88,2.16,2.44,2.72,3.00,
 -2.32,-2.04,-1.76,-1.48,-1.20,-0.92,-0.64,-0.36,-0.08,0.20,0.48,0.76,1.04,1.32,1.60,1.88,2.16,2.44,2.72,3.00,
 -2.60,-2.32,-2.04,-1.76,-1.48,-1.20,-0.92,-0.64,-0.36,-0.08,0.20,0.48,0.76,1.04,1.32,1.60,1.88,2.16,2.44,2.72,3.00,
 -2.60,-2.32,-2.04,-1.76,-1.48,-1.20,-0.92,-0.64,-0.36,-0.08,0.20,0.48,0.76,1.04,1.32,1.60,1.88,2.16,2.44,2.72,
 -2.60,-2.32,-2.04,-1.76,-1.48,-1.20,-0.92,-0.64,-0.36,-0.08,0.20,0.48,0.76,1.04,1.32,1.60,1.88,2.16,2.44,2.72,
 -2.60,-2.32,-2.04,-1.76,-1.48,-1.20,-0.92,-0.64,-0.36,-0.08,0.20,0.48,0.76,1.04,1.32,1.60,1.88,2.16,2.44,
 -2.32,-2.04,-1.76,-1.48,-1.20,-0.92,-0.64,-0.36,-0.08,0.20,0.48,0.76,1.04,1.32,1.60,1.88,2.16,
 -2.04,-1.76,-1.48,-1.20,-0.92,-0.64,-0.36,-0.08,0.20,0.48,0.76,1.04,1.32,1.60,1.88,
 -1.76,-1.48,-1.20,-0.92,-0.64,-0.36,-0.08,0.20,0.48,0.76,1.04,1.32,
]
# innermost core of the leverage cloud
rl_lev_inner = [
 0.00040,0.00043,0.00041,0.00044,0.00042,0.00039,0.00045,0.00040,0.00043,0.00041,0.00044,0.00042,
 0.00065,0.00068,0.00066,0.00069,0.00067,0.00064,0.00070,0.00065,0.00068,0.00066,0.00069,0.00067,0.00064,0.00070,0.00065,0.00068,
 0.00090,0.00093,0.00091,0.00094,0.00092,0.00089,0.00095,0.00090,0.00093,0.00091,0.00094,0.00092,0.00089,0.00095,0.00090,0.00093,0.00091,0.00094,
 0.00115,0.00118,0.00116,0.00119,0.00117,0.00114,0.00120,0.00115,0.00118,0.00116,0.00119,0.00117,0.00114,0.00120,0.00115,0.00118,0.00116,0.00119,
 0.00140,0.00143,0.00141,0.00144,0.00142,0.00139,0.00145,0.00140,0.00143,0.00141,0.00144,0.00142,0.00139,0.00145,0.00140,0.00143,0.00141,0.00144,0.00142,0.00139,
 0.00165,0.00168,0.00166,0.00169,0.00167,0.00164,0.00170,0.00165,0.00168,0.00166,0.00169,0.00167,0.00164,0.00170,0.00165,0.00168,0.00166,0.00169,0.00167,0.00164,
 0.00190,0.00193,0.00191,0.00194,0.00192,0.00189,0.00195,0.00190,0.00193,0.00191,0.00194,0.00192,0.00189,0.00195,0.00190,0.00193,0.00191,0.00194,0.00192,0.00189,0.00195,
 0.00215,0.00218,0.00216,0.00219,0.00217,0.00214,0.00220,0.00215,0.00218,0.00216,0.00219,0.00217,0.00214,0.00220,0.00215,0.00218,0.00216,0.00219,0.00217,
 0.00240,0.00243,0.00241,0.00244,0.00242,0.00239,0.00245,0.00240,0.00243,0.00241,0.00244,0.00242,0.00239,0.00245,0.00240,0.00243,0.00241,0.00244,0.00242,
 0.00265,0.00268,0.00266,0.00269,0.00267,0.00264,0.00270,0.00265,0.00268,0.00266,0.00269,0.00267,0.00264,0.00270,0.00265,0.00268,0.00266,0.00269,0.00267,
 0.00290,0.00293,0.00291,0.00294,0.00292,0.00289,0.00295,0.00290,0.00293,0.00291,0.00294,0.00292,0.00289,0.00295,0.00290,0.00293,
 0.00315,0.00318,0.00316,0.00319,0.00317,0.00314,0.00320,0.00315,0.00318,0.00316,0.00319,0.00317,0.00314,0.00320,0.00315,
 0.00340,0.00343,0.00341,0.00344,0.00342,0.00339,0.00345,0.00340,0.00343,0.00341,0.00344,
]
rl_sr_inner = [
 -1.62,-1.34,-1.06,-0.78,-0.50,-0.22,0.06,0.34,0.62,0.90,1.18,1.46,
 -1.90,-1.62,-1.34,-1.06,-0.78,-0.50,-0.22,0.06,0.34,0.62,0.90,1.18,1.46,1.74,2.02,2.30,
 -2.18,-1.90,-1.62,-1.34,-1.06,-0.78,-0.50,-0.22,0.06,0.34,0.62,0.90,1.18,1.46,1.74,2.02,2.30,2.58,
 -2.18,-1.90,-1.62,-1.34,-1.06,-0.78,-0.50,-0.22,0.06,0.34,0.62,0.90,1.18,1.46,1.74,2.02,2.30,2.58,
 -2.46,-2.18,-1.90,-1.62,-1.34,-1.06,-0.78,-0.50,-0.22,0.06,0.34,0.62,0.90,1.18,1.46,1.74,2.02,2.30,2.58,2.86,
 -2.46,-2.18,-1.90,-1.62,-1.34,-1.06,-0.78,-0.50,-0.22,0.06,0.34,0.62,0.90,1.18,1.46,1.74,2.02,2.30,2.58,2.86,
 -2.46,-2.18,-1.90,-1.62,-1.34,-1.06,-0.78,-0.50,-0.22,0.06,0.34,0.62,0.90,1.18,1.46,1.74,2.02,2.30,2.58,2.86,3.14,
 -2.46,-2.18,-1.90,-1.62,-1.34,-1.06,-0.78,-0.50,-0.22,0.06,0.34,0.62,0.90,1.18,1.46,1.74,2.02,2.30,2.58,
 -2.46,-2.18,-1.90,-1.62,-1.34,-1.06,-0.78,-0.50,-0.22,0.06,0.34,0.62,0.90,1.18,1.46,1.74,2.02,2.30,2.58,
 -2.46,-2.18,-1.90,-1.62,-1.34,-1.06,-0.78,-0.50,-0.22,0.06,0.34,0.62,0.90,1.18,1.46,1.74,2.02,2.30,2.58,
 -2.18,-1.90,-1.62,-1.34,-1.06,-0.78,-0.50,-0.22,0.06,0.34,0.62,0.90,1.18,1.46,1.74,2.02,
 -2.18,-1.90,-1.62,-1.34,-1.06,-0.78,-0.50,-0.22,0.06,0.34,0.62,0.90,1.18,1.46,1.74,
 -1.62,-1.34,-1.06,-0.78,-0.50,-0.22,0.06,0.34,0.62,0.90,1.18,
]
rl_lev_sparse = [
 0.00164,0.00220,0.00330,0.00350,0.00390,0.00410,0.00440,0.00457,0.00467,0.00440,
 0.00470,0.00410,0.00450,0.00390,0.00490,0.00510,0.00440,0.00350,0.00260,0.00315,
 0.00125,0.00076,0.00190,0.00400,0.00580,0.00440,0.00500,0.00550,0.00560,0.00650,
 0.00470,0.00490,0.00560,0.00610,0.00660,0.00510,0.00560,0.00600,0.00660,0.00700,
 0.00750,0.00800,0.00600,0.00594,0.00623,0.00653,0.00682,0.00721,0.00750,0.00770,
 0.00604,0.00643,0.00682,0.00721,0.00764,0.00623,0.00663,0.00698,0.00633,0.00653,
 0.00584,0.00604,0.00555,0.00520,0.00540,0.00500,0.00530,0.00510,0.00276,0.00281,
 0.00457,0.00297,0.00768,0.00768,0.00758,0.00801,0.00905,0.00905,0.00987,0.00960,
 0.00980,0.00970,0.01070,0.01170,0.01160,0.01160,0.01170,0.02680,
]
rl_sr_sparse = [
 3.30,3.45,1.97,2.44,2.36,2.04,0.86,0.39,-0.55,-1.10,
 -1.49,-1.81,-2.12,-2.28,-2.44,-2.75,-2.59,-2.91,-3.07,-3.25,
 -2.72,-2.44,-2.95,4.53,3.77,2.72,2.75,2.72,2.44,2.47,
 2.20,1.57,1.65,1.68,1.40,1.02,1.34,0.47,0.24,0.31,
 0.58,0.63,-0.08,-0.71,-0.86,-0.74,-0.79,-0.71,-0.74,-0.71,
 -1.18,-1.34,-1.18,-1.26,-1.68,-1.81,-1.81,-2.09,-2.59,-2.67,
 -1.49,-2.12,-2.83,-2.30,-1.90,-1.20,-0.60,0.30,-3.69,-4.51,
 -4.06,-7.55,-0.79,-1.70,0.55,0.66,0.68,0.31,1.89,-0.75,
 -0.72,-0.70,1.23,1.81,0.74,0.39,0.05,3.30,
]
rl_smooth_lev = [0.00096, 0.00164, 0.00184, 0.0037, 0.0044, 0.0050, 0.0057, 0.0064, 0.0074,
                 0.0085, 0.0110, 0.0114, 0.0122, 0.0125, 0.0149, 0.0172, 0.0200, 0.0227, 0.0267]
rl_smooth_sr = [-0.05, -0.08, -0.01, 0.0, -0.20, -0.31, -0.39, -0.45, -0.42,
                -0.32, -0.27, -0.21, -0.07, 0.0, 0.47, 1.00, 1.55, 2.08, 2.83]
rl_lab_text = ["711", "1619", "1656", "245"]
rl_lab_lev = [0.0058, 0.0268, 0.00457, 0.00297]
rl_lab_sr = [3.77, 3.30, -4.06, -7.55]

for a_, b_ in [(rf_fit_cloud, rf_res_cloud), (rf_fit_core, rf_res_core),
               (rf_fit_inner, rf_res_inner), (rf_fit_sparse, rf_res_sparse),
               (qq_theo_band, qq_res_band), (qq_theo_tail, qq_res_tail),
               (cook_peak_obs, cook_peak_d), (rl_lev_cloud, rl_sr_cloud),
               (rl_lev_core, rl_sr_core), (rl_lev_inner, rl_sr_inner),
               (rl_lev_sparse, rl_sr_sparse)]:
    assert len(a_) == len(b_), (len(a_), len(b_), a_[:3])

# ---------------- styling ----------------
sns.set_theme(style="darkgrid")
plt.rcParams["font.family"] = ["Liberation Sans", "DejaVu Sans"]
plt.rcParams["axes.unicode_minus"] = False

PT_COLOR = "#444444"
W, H = 1233, 842
fig = plt.figure(figsize=(W / 100, H / 100), dpi=100)
fig.patch.set_facecolor("white")


def make_ax(left, top, right, bottom):
    return fig.add_axes([left / W, 1 - bottom / H, (right - left) / W, (bottom - top) / H])


def style(ax, xlim, ylim, xmaj, xlabs, xmin, ymaj, ylabs, ymin, title, xlabel, ylabel):
    ax.set_facecolor("#EBEBEB")
    ax.set_xlim(xlim)
    ax.set_ylim(ylim)
    ax.set_xticks(xmaj, xlabs)
    ax.set_xticks(xmin, minor=True)
    ax.set_yticks(ymaj, ylabs)
    ax.set_yticks(ymin, minor=True)
    ax.set_axisbelow(True)
    ax.grid(True, which="major", color="white", lw=1.2)
    ax.grid(True, which="minor", color="white", lw=0.6)
    for s in ax.spines.values():
        s.set_visible(True)
        s.set_color("black")
        s.set_linewidth(1.1)
        s.set_zorder(6)
    ax.tick_params(which="major", direction="out", length=5.0, width=1.0, color="#333333",
                   labelsize=17.5, labelcolor="#4D4D4D", pad=3.5, bottom=True, left=True)
    ax.tick_params(which="minor", length=0, bottom=False, left=False)
    ax.set_title(title, fontsize=22, pad=9.5, color="black")
    ax.set_xlabel(xlabel, fontsize=22, labelpad=3, color="black")
    ax.set_ylabel(ylabel, fontsize=22, labelpad=5, color="black")


def points(ax, x, y):
    sns.scatterplot(x=x, y=y, ax=ax, marker="o", s=34, color=PT_COLOR, facecolors="none",
                    edgecolor=PT_COLOR, linewidth=1.1, legend=False, zorder=2)


def labels(ax, xs, ys, texts):
    # label drawn a fixed distance above its point
    for x, y, t in zip(xs, ys, texts):
        a = ax.annotate(t, (x, y), xytext=(0, 15), textcoords="offset points", ha="center",
                        va="center", color="#FF0000", fontsize=12.5, fontweight="bold",
                        annotation_clip=False, zorder=7)
        a.set_clip_path(ax.patch)


def labels_at(ax, xs, ys, texts):
    # label drawn at its own data position
    for x, y, t in zip(xs, ys, texts):
        a = ax.text(x, y, t, ha="center", va="center", color="#FF0000", fontsize=12.5,
                    fontweight="bold", zorder=7)
        a.set_clip_path(ax.patch)


yt_std = [-7.5, -5.0, -2.5, 0.0, 2.5, 5.0]
yt_std_lab = ["-7.5", "-5.0", "-2.5", "0.0", "2.5", "5.0"]
yt_std_min = [-6.25, -3.75, -1.25, 1.25, 3.75]

# Panel 1: Residuals vs Fitted
ax1 = make_ax(85, 53, 607, 333)
style(ax1, (-0.31, 8.63), (-5.85, 3.69), [0, 2, 4, 6, 8], ["0", "2", "4", "6", "8"], [1, 3, 5, 7],
      [-4, -2, 0, 2], ["-4", "-2", "0", "2"], [-5, -3, -1, 1, 3],
      "Residuals vs Fitted", "Fitted values", "Residuals")
points(ax1, np.array(rf_fit_cloud + rf_fit_core + rf_fit_inner + rf_fit_sparse),
       np.array(rf_res_cloud + rf_res_core + rf_res_inner + rf_res_sparse))
sns.lineplot(x=rf_smooth_fit, y=rf_smooth_res, ax=ax1, color="#0000FF", lw=1.1, sort=False,
             estimator=None, zorder=3)
ax1.axhline(0, color="#8C8C8C", lw=1.0, dashes=(6.5, 4.5), zorder=4)
labels(ax1, rf_lab_fit, rf_lab_res, rf_lab_text)

# Panel 2: Normal Q-Q
ax2 = make_ax(729, 53, 1231, 333)
style(ax2, (-3.86, 3.85), (-8.06, 5.06), [-2, 0, 2], ["-2", "0", "2"], [-3, -1, 1, 3],
      yt_std, yt_std_lab, yt_std_min, "Normal Q-Q", "Theoretical Quantiles",
      "Standardized residuals")
points(ax2, np.array(qq_theo_tail + qq_theo_band), np.array(qq_res_tail + qq_res_band))
ax2.axline((0, qq_line_intercept), slope=qq_line_slope, color="#8C8C8C", lw=0.8,
           dashes=(4, 7.5), zorder=4)
labels_at(ax2, qq_lab_theo, qq_lab_res, qq_lab_text)

# Panel 3: Cook's distance
ax3 = make_ax(111, 485, 608, 767)
style(ax3, (-107, 2406), (-0.0032, 0.0643), [0, 500, 1000, 1500, 2000],
      ["0", "500", "1000", "1500", "2000"], [250, 750, 1250, 1750, 2250],
      [0, 0.02, 0.04, 0.06], ["0.00", "0.02", "0.04", "0.06"], [0.01, 0.03, 0.05],
      "Cook's distance", "Obs. Number", "Cook's distance")
cook_base_obs = np.arange(1, 1 + 10 * len(cook_base), 10)
ax3.vlines(cook_base_obs, 0, cook_base, color=PT_COLOR, lw=1.1, zorder=2)
ax3.vlines(cook_peak_obs, 0, cook_peak_d, color=PT_COLOR, lw=1.1, zorder=2)
labels(ax3, cook_lab_obs, cook_lab_d, cook_lab_text)

# Panel 4: Residuals vs Leverage
ax4 = make_ax(729, 485, 1231, 766)
style(ax4, (-0.00138, 0.02811), (-8.13, 5.11), [0, 0.01, 0.02], ["0.00", "0.01", "0.02"],
      [0.005, 0.015, 0.025], yt_std, yt_std_lab, yt_std_min,
      "Residuals vs Leverage", "Leverage", "Standardized Residuals")
points(ax4, np.array(rl_lev_cloud + rl_lev_core + rl_lev_inner + rl_lev_sparse),
       np.array(rl_sr_cloud + rl_sr_core + rl_sr_inner + rl_sr_sparse))
sns.lineplot(x=rl_smooth_lev, y=rl_smooth_sr, ax=ax4, color="#0000FF", lw=1.1, sort=False,
             estimator=None, zorder=3)
ax4.axhline(0, color="#8C8C8C", lw=1.0, dashes=(6.5, 4.5), zorder=4)
labels(ax4, rl_lab_lev, rl_lab_sr, rl_lab_text)

fig.savefig("out.png", dpi=100, facecolor="white")
